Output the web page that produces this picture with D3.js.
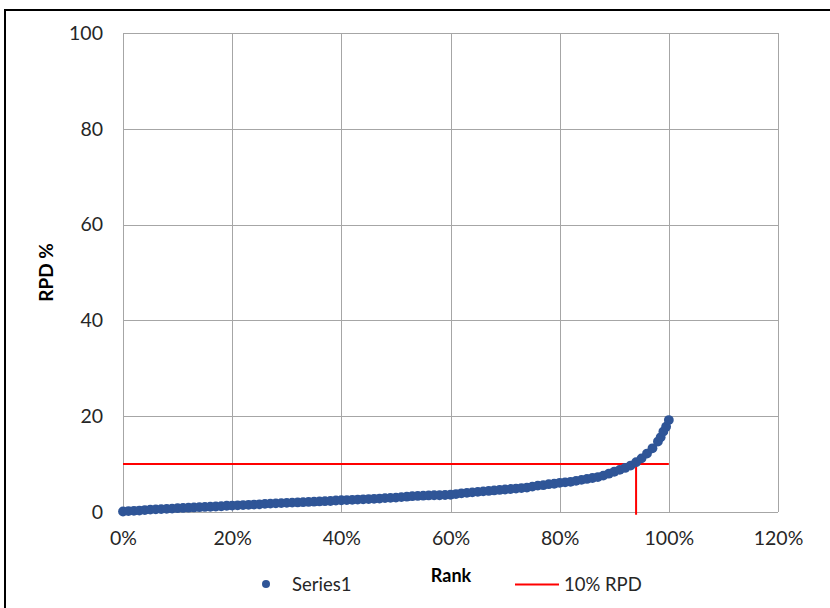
<!DOCTYPE html>
<html>
<head>
<meta charset="utf-8">
<script src="https://cdn.jsdelivr.net/npm/d3@7"></script>
<style>
  html, body { margin: 0; padding: 0; background: #fff; }
  svg { display: block; }
  text { font-family: Lato, "Noto Sans", sans-serif; fill: #262626; }
</style>
</head>
<body>
<svg id="chart" width="830" height="608"></svg>
<script>
// ---- Data ----
const rank = [
  0.00,0.01,0.02,0.03,0.04,0.05,0.06,0.07,0.08,0.09,
  0.10,0.11,0.12,0.13,0.14,0.15,0.16,0.17,0.18,0.19,
  0.20,0.21,0.22,0.23,0.24,0.25,0.26,0.27,0.28,0.29,
  0.30,0.31,0.32,0.33,0.34,0.35,0.36,0.37,0.38,0.39,
  0.40,0.41,0.42,0.43,0.44,0.45,0.46,0.47,0.48,0.49,
  0.50,0.51,0.52,0.53,0.54,0.55,0.56,0.57,0.58,0.59,
  0.60,0.61,0.62,0.63,0.64,0.65,0.66,0.67,0.68,0.69,
  0.70,0.71,0.72,0.73,0.74,0.75,0.76,0.77,0.78,0.79,
  0.80,0.81,0.82,0.83,0.84,0.85,0.86,0.87,0.88,0.89,
  0.90,0.91,0.92,0.93,0.94,0.95,0.96,0.97,0.98,0.985,
  0.99,0.995,1.00
];
const rpd = [
  0.1,0.2,0.25,0.3,0.4,0.5,0.55,0.6,0.65,0.7,
  0.8,0.85,0.9,0.95,1.0,1.05,1.1,1.15,1.2,1.3,
  1.35,1.4,1.45,1.5,1.55,1.6,1.7,1.75,1.8,1.85,
  1.9,1.95,2.0,2.05,2.1,2.15,2.2,2.25,2.3,2.4,
  2.45,2.5,2.55,2.6,2.65,2.7,2.75,2.8,2.9,2.95,
  3.0,3.1,3.2,3.3,3.35,3.4,3.45,3.5,3.5,3.55,
  3.6,3.75,3.9,4.0,4.1,4.2,4.3,4.4,4.5,4.6,
  4.7,4.8,4.9,5.0,5.1,5.3,5.5,5.6,5.8,5.9,
  6.1,6.2,6.3,6.5,6.7,6.9,7.1,7.3,7.6,8.0,
  8.4,8.8,9.2,9.7,10.4,11.2,12.2,13.3,14.7,15.6,
  16.8,17.8,19.2
];
const refRank = [0, 1.00, null, 0.94, 0.94];
const refRpd  = [10, 10, null, 10, -0.6];
const xTicks = [0, 0.2, 0.4, 0.6, 0.8, 1.0, 1.2];
const yTicks = [0, 20, 40, 60, 80, 100];
const seriesNames = ["Series1", "10% RPD"];
const axisTitles = { x: "Rank", y: "RPD %" };

// ---- Layout ----
const svg = d3.select("#chart");
const pLeft = 123, pRight = 778, pTop = 33, pBottom = 512;
const x = d3.scaleLinear().domain([0, 1.2]).range([pLeft, pRight]);
const y = d3.scaleLinear().domain([0, 100]).range([pBottom, pTop]);
const blue = "#2f5597", red = "#ff0000", gridCol = "#a6a6a6";

// outer frame
svg.append("rect").attr("x", 5).attr("y", 10).attr("width", 840).attr("height", 620)
  .attr("fill", "none").attr("stroke", "#000").attr("stroke-width", 2);

// gridlines
svg.append("g").selectAll("line").data(xTicks).join("line")
  .attr("x1", d => Math.round(x(d)) + 0.5).attr("x2", d => Math.round(x(d)) + 0.5)
  .attr("y1", pTop).attr("y2", pBottom)
  .attr("stroke", gridCol).attr("stroke-width", 1);
svg.append("g").selectAll("line").data(yTicks).join("line")
  .attr("y1", d => Math.round(y(d)) + 0.5).attr("y2", d => Math.round(y(d)) + 0.5)
  .attr("x1", pLeft).attr("x2", pRight)
  .attr("stroke", gridCol).attr("stroke-width", 1);

// axes labels (via d3 axes, no domain/ticks)
const xAxis = svg.append("g").attr("transform", `translate(0,${pBottom})`)
  .call(d3.axisBottom(x).tickValues(xTicks).tickFormat(d3.format(".0%")).tickSize(0).tickPadding(19));
const yAxis = svg.append("g").attr("transform", `translate(${pLeft},0)`)
  .call(d3.axisLeft(y).tickValues(yTicks).tickSize(0).tickPadding(20));
[xAxis, yAxis].forEach(g => {
  g.select(".domain").remove();
  g.selectAll("text").style("font-family", "Lato, 'Noto Sans', sans-serif")
    .style("font-size", "19.5px").attr("fill", "#262626");
});

// reference line series
const line = d3.line().defined((d, i) => refRank[i] !== null)
  .x((d, i) => x(refRank[i])).y((d, i) => y(refRpd[i]));
svg.append("path").attr("d", line(refRank)).attr("fill", "none")
  .attr("stroke", red).attr("stroke-width", 2);

// scatter series
svg.append("g").selectAll("circle").data(rank).join("circle")
  .attr("cx", (d) => x(d)).attr("cy", (d, i) => y(rpd[i]))
  .attr("r", 4.9).attr("fill", blue);

// axis titles
svg.append("text").attr("transform", `translate(53,${(pTop + pBottom) / 2}) rotate(-90)`)
  .attr("text-anchor", "middle").style("font-weight", "bold").style("font-size", "19px")
  .style("fill", "#000").text(axisTitles.y);
svg.append("text").attr("x", 451).attr("y", 582)
  .attr("text-anchor", "middle").style("font-weight", "bold").style("font-size", "18px")
  .style("fill", "#000").text(axisTitles.x);

// legend
const lg = svg.append("g");
lg.append("circle").attr("cx", 266).attr("cy", 584).attr("r", 4).attr("fill", blue);
lg.append("text").attr("x", 292).attr("y", 591).style("font-size", "18.5px").text(seriesNames[0]);
lg.append("line").attr("x1", 515).attr("x2", 559).attr("y1", 584.5).attr("y2", 584.5)
  .attr("stroke", red).attr("stroke-width", 2);
lg.append("text").attr("x", 564).attr("y", 591).style("font-size", "18.5px").text(seriesNames[1]);
</script>
</body>
</html>
